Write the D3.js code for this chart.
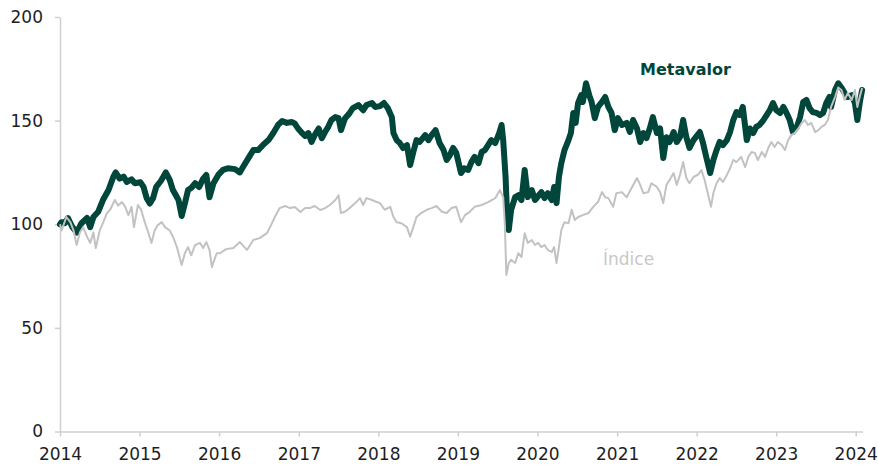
<!DOCTYPE html>
<html>
<head>
<meta charset="utf-8">
<script src="https://cdn.jsdelivr.net/npm/d3@7"></script>
<style>
  body { margin: 0; background: #fff; }
  text { font-family: "DejaVu Sans", sans-serif; }
</style>
</head>
<body>
<script>
// [decimal year, value]
var metavalor = [
  [2014.00,100],[2014.02,101],[2014.06,100.5],[2014.10,103],[2014.15,99],[2014.21,96],
  [2014.27,100.5],[2014.34,103],[2014.38,98.6],[2014.42,103.5],[2014.48,106],[2014.54,111.7],
  [2014.61,116.5],[2014.67,122.8],[2014.70,125],[2014.75,122],[2014.80,123],[2014.84,120.4],
  [2014.90,121.7],[2014.94,119.8],[2015.01,120.3],[2015.05,118],[2015.09,112.6],[2015.13,110],
  [2015.17,112.6],[2015.21,118],[2015.27,121],[2015.33,125],[2015.38,121.4],[2015.42,116.5],
  [2015.49,111.7],[2015.53,104],[2015.57,110],[2015.61,116.5],[2015.65,117.5],[2015.70,119.8],
  [2015.75,118],[2015.80,122],[2015.84,123.8],[2015.88,113],[2015.93,119.8],[2015.99,123.8],
  [2016.05,126.2],[2016.11,127],[2016.20,126.6],[2016.26,125],[2016.30,127.6],[2016.37,132],
  [2016.43,135.8],[2016.49,135.8],[2016.55,138.2],[2016.62,140.6],[2016.68,144],[2016.74,147.9],
  [2016.79,149.8],[2016.85,148.9],[2016.91,149.3],[2016.95,148.6],[2016.99,146.2],[2017.04,144],
  [2017.08,142.6],[2017.12,144],[2017.16,139.7],[2017.20,143],[2017.25,146.2],[2017.29,141.5],
  [2017.33,144.5],[2017.37,147],[2017.41,150.3],[2017.46,151.7],[2017.50,151.2],[2017.53,145.4],
  [2017.58,151],[2017.64,153.7],[2017.68,156],[2017.75,157.5],[2017.81,155],[2017.85,157.5],
  [2017.92,158.5],[2017.96,156.6],[2018.02,157],[2018.07,158.5],[2018.12,156],[2018.17,151.7],
  [2018.19,144],[2018.23,140.6],[2018.27,139.2],[2018.31,136.8],[2018.36,138.2],[2018.40,128.6],
  [2018.44,134.9],[2018.48,140.6],[2018.52,139.7],[2018.59,143],[2018.63,140.6],[2018.67,143],
  [2018.72,145.4],[2018.77,139.2],[2018.82,135.8],[2018.86,131],[2018.90,133.4],[2018.94,136.8],
  [2018.98,134.4],[2019.04,124.7],[2019.08,127],[2019.13,126.2],[2019.17,130],[2019.21,132.5],
  [2019.26,129.5],[2019.30,134.9],[2019.34,135.8],[2019.38,138.2],[2019.42,140.6],[2019.47,139.2],
  [2019.52,144],[2019.55,147.9],[2019.57,140.6],[2019.60,122.8],[2019.62,103.5],[2019.64,97.2],
  [2019.67,107],[2019.72,113.1],[2019.76,114],[2019.80,111.7],[2019.84,126.2],[2019.88,113.1],
  [2019.93,116.5],[2019.97,111.7],[2020.05,115.5],[2020.09,112.6],[2020.13,115],[2020.18,111.7],
  [2020.21,118],[2020.24,110.2],[2020.27,122.8],[2020.30,129.5],[2020.34,135.8],[2020.39,140.6],
  [2020.42,144],[2020.45,153.7],[2020.48,148.9],[2020.51,158.5],[2020.55,162.3],[2020.57,159],
  [2020.61,168],[2020.65,162.3],[2020.68,159],[2020.72,151.2],[2020.76,156.6],[2020.81,159],
  [2020.85,161.4],[2020.89,156.6],[2020.93,153.7],[2020.97,145.4],[2021.01,151.2],[2021.06,147.9],
  [2021.12,148.9],[2021.16,144.5],[2021.20,150.3],[2021.25,146.2],[2021.29,139.7],[2021.33,144],
  [2021.37,141.6],[2021.41,146.2],[2021.45,151.7],[2021.50,144],[2021.54,146.2],[2021.58,132],
  [2021.62,142],[2021.66,139.7],[2021.71,144.5],[2021.75,139.7],[2021.79,142],[2021.83,150.3],
  [2021.87,142],[2021.91,136.8],[2021.96,140.6],[2022.04,144.5],[2022.08,139.2],[2022.12,132.5],
  [2022.17,124.7],[2022.21,131],[2022.25,135.8],[2022.29,139.7],[2022.33,138.2],[2022.38,140.6],
  [2022.42,144.5],[2022.46,150.3],[2022.50,154.1],[2022.54,152.7],[2022.58,156.6],[2022.63,140.6],
  [2022.67,146.2],[2022.71,144],[2022.75,147],[2022.79,147.9],[2022.84,150.3],[2022.88,152.7],
  [2022.92,155.1],[2022.96,158.5],[2023.00,155.1],[2023.05,153.7],[2023.09,156.6],[2023.13,153.7],
  [2023.17,150.3],[2023.21,144.5],[2023.26,147],[2023.30,151.7],[2023.34,159],[2023.38,160],
  [2023.42,156],[2023.46,154.1],[2023.51,153.7],[2023.55,152.7],[2023.59,153.7],[2023.63,158.5],
  [2023.67,161.4],[2023.69,156.6],[2023.74,164.8],[2023.78,168],[2023.82,166],[2023.86,163.3],
  [2023.90,161.4],[2023.95,162.3],[2023.99,158.5],[2024.02,150.3],[2024.05,158.5],[2024.08,164.8]
];

var indice = [
  [2014.00,100],[2014.02,97],[2014.08,103.5],[2014.13,101],[2014.17,97],[2014.21,90],
  [2014.25,96],[2014.29,98.6],[2014.34,94],[2014.38,91],[2014.42,96],[2014.45,88.5],
  [2014.50,97],[2014.54,100.5],[2014.59,105.4],[2014.63,107],[2014.69,111.7],[2014.73,109],
  [2014.78,110.7],[2014.82,108.4],[2014.86,104.4],[2014.90,108.4],[2014.93,98.6],[2014.98,109.3],
  [2015.02,107],[2015.07,100.5],[2015.11,96],[2015.15,91],[2015.19,97],[2015.23,99.6],
  [2015.28,101],[2015.32,98.6],[2015.38,97],[2015.42,94],[2015.47,89],[2015.53,80.3],
  [2015.57,86],[2015.61,89],[2015.65,85],[2015.70,90],[2015.76,91],[2015.80,88.5],
  [2015.84,91.4],[2015.88,87.6],[2015.91,79.4],[2015.97,86],[2016.01,86],[2016.09,88],
  [2016.18,88.5],[2016.26,91.4],[2016.35,87.6],[2016.43,92.4],[2016.51,93.3],[2016.60,95.7],
  [2016.64,98.6],[2016.70,103.5],[2016.76,107.8],[2016.83,108.8],[2016.89,107.8],[2016.95,108.3],
  [2017.02,105.9],[2017.08,107.8],[2017.14,107.8],[2017.20,108.8],[2017.27,106.9],[2017.33,107.8],
  [2017.39,109.3],[2017.46,111.7],[2017.50,114],[2017.53,105.4],[2017.58,106],[2017.64,107.8],
  [2017.71,110.2],[2017.77,112.6],[2017.81,109.3],[2017.85,112.6],[2017.92,111.7],[2017.98,110.7],
  [2018.02,110.2],[2018.08,107],[2018.15,108.4],[2018.19,103.5],[2018.23,101],[2018.29,100.5],
  [2018.36,98.6],[2018.40,94],[2018.44,98.6],[2018.48,103.5],[2018.54,105.4],[2018.61,107],
  [2018.67,107.8],[2018.73,108.8],[2018.80,106],[2018.86,105.4],[2018.92,107.8],[2018.98,108.4],
  [2019.04,101],[2019.09,104.4],[2019.15,106],[2019.21,108.4],[2019.30,109.3],[2019.38,110.7],
  [2019.47,112.6],[2019.53,116.5],[2019.57,113],[2019.59,100.5],[2019.61,75.5],[2019.64,81.3],
  [2019.67,82.8],[2019.72,81.3],[2019.76,86],[2019.80,84.2],[2019.84,95.7],[2019.88,91],
  [2019.93,92.4],[2019.97,90],[2020.01,91],[2020.05,89],[2020.09,90],[2020.13,87.6],
  [2020.18,86.6],[2020.21,89],[2020.24,81.3],[2020.27,89],[2020.30,97.2],[2020.34,101],
  [2020.39,100.5],[2020.43,107],[2020.47,102],[2020.51,103.5],[2020.57,104.4],[2020.64,105.4],
  [2020.70,108.4],[2020.76,110.7],[2020.81,115.5],[2020.85,113],[2020.89,112.6],[2020.95,108.4],
  [2020.99,115],[2021.06,115.5],[2021.12,113],[2021.18,117.4],[2021.25,122.3],[2021.29,119],
  [2021.33,115],[2021.39,115.5],[2021.43,119.8],[2021.50,118],[2021.54,115.5],[2021.58,110.2],
  [2021.62,119],[2021.66,121.4],[2021.71,124.7],[2021.75,119],[2021.79,123.8],[2021.83,130],
  [2021.87,122.3],[2021.91,119.8],[2021.96,122.8],[2022.02,124],[2022.06,126.2],[2022.10,121.4],
  [2022.14,115],[2022.18,108.4],[2022.21,115],[2022.25,119.8],[2022.29,122.3],[2022.33,120.4],
  [2022.38,123.8],[2022.42,127],[2022.46,131],[2022.50,130],[2022.56,132.5],[2022.61,127.6],
  [2022.65,132.5],[2022.69,134.9],[2022.73,134.4],[2022.77,131],[2022.82,134.9],[2022.86,132.5],
  [2022.90,136.8],[2022.94,139.7],[2022.98,137.3],[2023.02,139.7],[2023.07,138.2],[2023.11,135.8],
  [2023.15,140.6],[2023.19,143],[2023.23,144],[2023.28,146.2],[2023.32,148.9],[2023.36,150.3],
  [2023.40,147.9],[2023.44,148.9],[2023.49,144.5],[2023.53,145.4],[2023.57,147],[2023.61,147.9],
  [2023.65,150.3],[2023.69,156.6],[2023.74,161.4],[2023.78,166],[2023.82,164.8],[2023.86,160],
  [2023.90,163.3],[2023.95,160],[2023.99,164.8],[2024.02,156.6],[2024.05,161.4],[2024.08,165.7]
];

var yTicks = [0, 50, 100, 150, 200];
var xTickYears = [2014, 2015, 2016, 2017, 2018, 2019, 2020, 2021, 2022, 2023, 2024];

function toDate(t) {
  var yr = Math.floor(t),
      start = new Date(yr, 0, 1),
      end = new Date(yr + 1, 0, 1);
  return new Date(+start + (t - yr) * (end - start));
}

var width = 878, height = 465;

var svg = d3.select("body").append("svg")
    .attr("width", width)
    .attr("height", height);

var x = d3.scaleTime()
    .domain([toDate(2014), toDate(2024.085)])
    .range([60, 862.5]);

var y = d3.scaleLinear()
    .domain([0, 200])
    .range([431.5, 17]);

// axes
svg.append("g")
    .attr("transform", "translate(60,0)")
    .call(d3.axisLeft(y).tickValues(yTicks).tickSize(5).tickPadding(12).tickSizeOuter(0));

svg.append("g")
    .attr("transform", "translate(0,431.5)")
    .call(d3.axisBottom(x)
      .tickValues(xTickYears.map(function(d) { return toDate(d); }))
      .tickFormat(d3.timeFormat("%Y"))
      .tickSize(5).tickPadding(11).tickSizeOuter(0));

svg.selectAll(".domain, .tick line")
    .attr("stroke", "#cfcfcf")
    .attr("stroke-width", 1.5);

svg.selectAll(".tick text")
    .attr("fill", "#1e1e1e")
    .style("font-size", "17px")
    .style("font-family", "'DejaVu Sans', sans-serif");

var line = d3.line()
    .x(function(d) { return x(toDate(d[0])); })
    .y(function(d) { return y(d[1]); });

svg.append("path")
    .datum(metavalor)
    .attr("fill", "none")
    .attr("stroke", "#00463a")
    .attr("stroke-width", 6)
    .attr("stroke-linejoin", "round")
    .attr("stroke-linecap", "round")
    .attr("d", line);

svg.append("path")
    .datum(indice)
    .attr("fill", "none")
    .attr("stroke", "#c2c2c2")
    .attr("stroke-width", 2)
    .attr("stroke-linejoin", "round")
    .attr("d", line);

// series labels
svg.append("text")
    .attr("x", 640)
    .attr("y", 75)
    .attr("fill", "#00463a")
    .style("font-size", "16px")
    .style("font-weight", "bold")
    .text("Metavalor");

svg.append("text")
    .attr("x", 603)
    .attr("y", 265)
    .attr("fill", "#c8c8c8")
    .style("font-size", "17px")
    .text("Índice");
</script>
</body>
</html>
